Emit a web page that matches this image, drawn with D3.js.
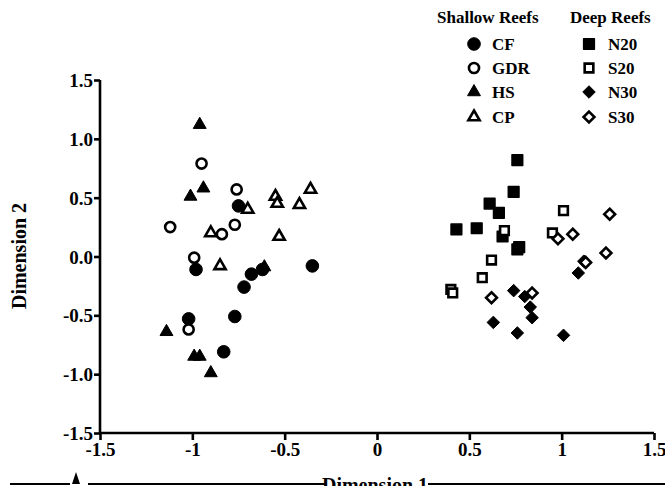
<!DOCTYPE html>
<html><head><meta charset="utf-8">
<script src="https://cdn.jsdelivr.net/npm/d3@7"></script>
<style>body{margin:0;background:#fff}svg{display:block}text{font-family:"Liberation Serif","Times New Roman",serif;font-weight:bold}</style>
</head><body>
<svg id="c" width="665" height="486"></svg>
<script>
const xTicks = [-1.5,-1,-0.5,0,0.5,1,1.5];
const xTickLabels = ["-1.5","-1","-0.5","0","0.5","1","1.5"];
const yTicks = [-1.5,-1,-0.5,0,0.5,1,1.5];
const yTickLabels = ["-1.5","-1.0","-0.5","0.0","0.5","1.0","1.5"];

const CF  = [[-0.75,0.43],[-0.98,-0.11],[-0.62,-0.11],[-0.68,-0.15],[-0.72,-0.26],[-0.77,-0.51],[-1.02,-0.53],[-0.83,-0.81],[-0.35,-0.08]];
const GDR = [[-0.95,0.79],[-0.76,0.57],[-1.12,0.25],[-0.84,0.19],[-0.77,0.27],[-0.99,-0.01],[-1.02,-0.62]];
const HS  = [[-0.96,1.12],[-0.94,0.58],[-1.01,0.51],[-0.61,-0.09],[-1.14,-0.64],[-0.99,-0.85],[-0.96,-0.85],[-0.90,-0.99]];
const CP  = [[-0.70,0.40],[-0.55,0.51],[-0.54,0.45],[-0.36,0.57],[-0.42,0.44],[-0.53,0.17],[-0.90,0.20],[-0.85,-0.08]];
const N20 = [[0.76,0.82],[0.74,0.55],[0.61,0.45],[0.66,0.37],[0.43,0.23],[0.54,0.24],[0.68,0.17],[0.76,0.06],[0.77,0.08]];
const S20 = [[0.69,0.22],[1.01,0.39],[0.95,0.20],[0.62,-0.03],[0.57,-0.18],[0.40,-0.28],[0.41,-0.31]];
const N30 = [[1.12,-0.04],[1.09,-0.14],[0.74,-0.29],[0.80,-0.34],[0.83,-0.43],[0.84,-0.52],[0.63,-0.56],[0.76,-0.65],[1.01,-0.67]];
const S30 = [[1.26,0.36],[1.06,0.19],[0.98,0.15],[1.24,0.03],[1.13,-0.05],[0.84,-0.31],[0.62,-0.35]];

const shallowNames = ["CF","GDR","HS","CP"];
const deepNames = ["N20","S20","N30","S30"];

const series = [
  {name:"CF", data:CF, shape:"circle", fill:true},
  {name:"GDR", data:GDR, shape:"circle", fill:false},
  {name:"HS", data:HS, shape:"triangle", fill:true},
  {name:"CP", data:CP, shape:"triangle", fill:false},
  {name:"N20", data:N20, shape:"square", fill:true},
  {name:"S20", data:S20, shape:"square", fill:false},
  {name:"N30", data:N30, shape:"diamond", fill:true},
  {name:"S30", data:S30, shape:"diamond", fill:false}
];

const svg = d3.select("#c");
const x = d3.scaleLinear().domain([-1.5,1.5]).range([100,654]);
const y = d3.scaleLinear().domain([-1.5,1.5]).range([433,80]);

function symPath(shape, filled){
  const sizes = {circle: filled?125:80, triangle: filled?72:55, square: filled?115:75, diamond: filled?100:75};
  const types = {circle:d3.symbolCircle, triangle:d3.symbolTriangle, square:d3.symbolSquare, diamond:d3.symbolDiamond2};
  return d3.symbol().type(types[shape]).size(sizes[shape])();
}

function drawMarker(g, s, px, py){
  const p = g.append("path").attr("d", symPath(s.shape, s.fill))
    .attr("transform", `translate(${px},${py})`);
  if (s.fill) p.attr("fill","#000").attr("stroke","#000").attr("stroke-width", s.shape==="square"?1.5:1).attr("stroke-linejoin","round");
  else p.attr("fill","#fff").attr("stroke","#000").attr("stroke-width",2.6).attr("stroke-linejoin","miter");
}

// points
const pg = svg.append("g");
series.forEach(s => s.data.forEach(d => drawMarker(pg, s, x(d[0]), y(d[1]))));

// axes
const xAxis = d3.axisBottom(x).tickValues(xTicks).tickSize(7).tickPadding(1)
  .tickFormat((d,i)=>xTickLabels[i]);
const yAxis = d3.axisLeft(y).tickValues(yTicks).tickSize(6).tickPadding(1)
  .tickFormat((d,i)=>yTickLabels[i]);
const gx = svg.append("g").attr("transform","translate(0,433)").call(xAxis);
const gy = svg.append("g").attr("transform","translate(100,0)").call(yAxis);
[gx,gy].forEach(g=>{
  g.select(".domain").attr("stroke","#000").attr("stroke-width",2.6);
  g.selectAll(".tick line").attr("stroke","#000").attr("stroke-width",2.6);
  g.selectAll("text").attr("fill","#000").style("font-size","19px").style("font-family",'"Liberation Serif",serif').style("font-weight","bold");
});
gx.select(".domain").attr("d","M100,0H654");
gy.select(".domain").attr("d","M0,80V433");
gx.selectAll("text").attr("dy","0.8em");
gy.selectAll("text").attr("dy","0.35em");

// axis titles
svg.append("text").attr("transform","translate(26,256) rotate(-90)").attr("text-anchor","middle")
  .style("font-size","20px").text("Dimension 2");
svg.append("text").attr("x",375).attr("y",492).attr("text-anchor","middle")
  .style("font-size","20px").text("Dimension 1");

// bottom artefact line
const bl = svg.append("g").attr("stroke","#000").attr("stroke-width",2);
bl.append("line").attr("x1",10).attr("x2",70).attr("y1",484).attr("y2",484);
bl.append("line").attr("x1",88).attr("x2",325).attr("y1",484).attr("y2",484);
bl.append("line").attr("x1",428).attr("x2",665).attr("y1",484).attr("y2",484);
svg.append("path").attr("d","M72,484 L76,472 L80,484 Z").attr("fill","#000");

// legend
const lg = svg.append("g");
lg.append("text").attr("x",437).attr("y",23).style("font-size","17px").text("Shallow Reefs");
lg.append("text").attr("x",570).attr("y",23).style("font-size","17px").text("Deep Reefs");
const rowY = [44,68,92,117];
shallowNames.forEach((n,i)=>{
  const s = series.find(t=>t.name===n);
  drawMarker(lg, s, 474, rowY[i]);
  lg.append("text").attr("x",492).attr("y",rowY[i]+6).style("font-size","17px").text(n);
});
deepNames.forEach((n,i)=>{
  const s = series.find(t=>t.name===n);
  drawMarker(lg, s, 589, rowY[i]);
  lg.append("text").attr("x",608).attr("y",rowY[i]+6).style("font-size","17px").text(n);
});
</script>
</body></html>
